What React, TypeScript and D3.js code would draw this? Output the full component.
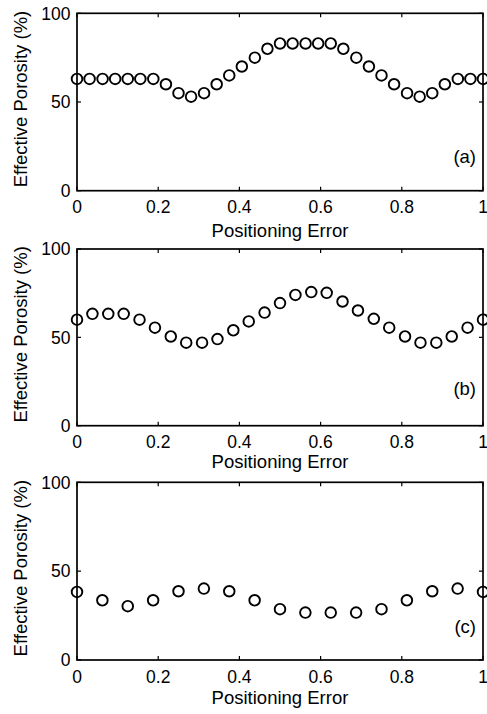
import React from "react";
import * as d3 from "d3";

const xA = [0, 0.031, 0.063, 0.094, 0.125, 0.156, 0.188, 0.219, 0.25, 0.281, 0.313, 0.344, 0.375, 0.406, 0.438, 0.469, 0.5, 0.531, 0.563, 0.594, 0.625, 0.656, 0.688, 0.719, 0.75, 0.781, 0.813, 0.844, 0.875, 0.906, 0.938, 0.969, 1];
const yA = [63, 63, 63, 63, 63, 63, 63, 60, 55, 53, 55, 60, 65, 70, 75, 80, 83, 83, 83, 83, 83, 80, 75, 70, 65, 60, 55, 53, 55, 60, 63, 63, 63];

const xB = [0, 0.038, 0.077, 0.115, 0.154, 0.192, 0.231, 0.269, 0.308, 0.346, 0.385, 0.423, 0.462, 0.5, 0.538, 0.577, 0.615, 0.654, 0.692, 0.731, 0.769, 0.808, 0.846, 0.885, 0.923, 0.962, 1];
const yB = [60, 63.3, 63.3, 63.3, 60, 55.5, 50.5, 47, 47, 49, 54, 59, 64, 69.4, 74, 75.6, 75.2, 70.3, 65.2, 60.5, 55.5, 50.5, 47, 47, 50.5, 55.5, 60];

const xC = [0, 0.0625, 0.125, 0.1875, 0.25, 0.3125, 0.375, 0.4375, 0.5, 0.5625, 0.625, 0.6875, 0.75, 0.8125, 0.875, 0.9375, 1];
const yC = [38.3, 33.6, 30.3, 33.6, 38.7, 40.2, 38.7, 33.6, 28.6, 26.7, 26.7, 26.7, 28.6, 33.6, 38.7, 40.2, 38.3];

const xTicks = [0, 0.2, 0.4, 0.6, 0.8, 1];
const xTickLabels = ["0", "0.2", "0.4", "0.6", "0.8", "1"];
const yTicks = [0, 50, 100];
const panelLabels = ["(a)", "(b)", "(c)"];
const xTitle = "Positioning Error";
const yTitle = "Effective Porosity (%)";

const W = 487;
const H = 714;
const left = 77;
const right = 483;
const panels = [
  { top: 13.3, bottom: 190.7, xs: xA, ys: yA, labelOff: 28, titleOff: 46 },
  { top: 249, bottom: 425.7, xs: xB, ys: yB, labelOff: 31, titleOff: 42 },
  { top: 482.3, bottom: 660, xs: xC, ys: yC, labelOff: 27, titleOff: 43.5 },
];
const font = "'Liberation Sans', Arial, Helvetica, sans-serif";

function Panel({ p, label }: { p: any; label: string }) {
  const x = d3.scaleLinear().domain([0, 1]).range([left, right]);
  const y = d3.scaleLinear().domain([0, 100]).range([p.bottom, p.top]);
  const tl = 4;
  return (
    <g>
      <rect x={left} y={p.top} width={right - left} height={p.bottom - p.top} fill="none" stroke="#000" strokeWidth={1.7} />
      {xTicks.map((t, i) => (
        <g key={"xt" + i}>
          <line x1={x(t)} x2={x(t)} y1={p.bottom} y2={p.bottom - tl} stroke="#000" strokeWidth={1.2} />
          <line x1={x(t)} x2={x(t)} y1={p.top} y2={p.top + tl} stroke="#000" strokeWidth={1.2} />
          <text x={x(t)} y={p.bottom + 22.5} textAnchor="middle" fontSize={17.5} fontFamily={font} fill="#000">
            {xTickLabels[i]}
          </text>
        </g>
      ))}
      {yTicks.map((t, i) => (
        <g key={"yt" + i}>
          <line x1={left} x2={left + tl} y1={y(t)} y2={y(t)} stroke="#000" strokeWidth={1.2} />
          <line x1={right} x2={right - tl} y1={y(t)} y2={y(t)} stroke="#000" strokeWidth={1.2} />
          <text x={70.5} y={y(t)} dy="0.36em" textAnchor="end" fontSize={17.5} fontFamily={font} fill="#000">
            {t}
          </text>
        </g>
      ))}
      {p.xs.map((v: number, i: number) => (
        <circle key={"c" + i} cx={x(v)} cy={y(p.ys[i])} r={5.3} fill="none" stroke="#000" strokeWidth={1.9} />
      ))}
      <text x={right - 7} y={p.bottom - p.labelOff} textAnchor="end" fontSize={18.5} fontFamily={font} fill="#000">
        {label}
      </text>
      <text x={(left + right) / 2} y={p.bottom + p.titleOff} textAnchor="middle" fontSize={18.5} fontFamily={font} fill="#000">
        {xTitle}
      </text>
      <text
        transform={`translate(26.5, ${(p.top + p.bottom) / 2 - 3}) rotate(-90)`}
        textAnchor="middle"
        fontSize={18.5}
        fontFamily={font}
        fill="#000"
      >
        {yTitle}
      </text>
    </g>
  );
}

export default function App() {
  return (
    <svg width={W} height={H} style={{ position: "absolute", left: 0, top: 0, background: "#fff" }}>
      <rect width={W} height={H} fill="#fff" />
      {panels.map((p, i) => (
        <Panel key={i} p={p} label={panelLabels[i]} />
      ))}
    </svg>
  );
}
